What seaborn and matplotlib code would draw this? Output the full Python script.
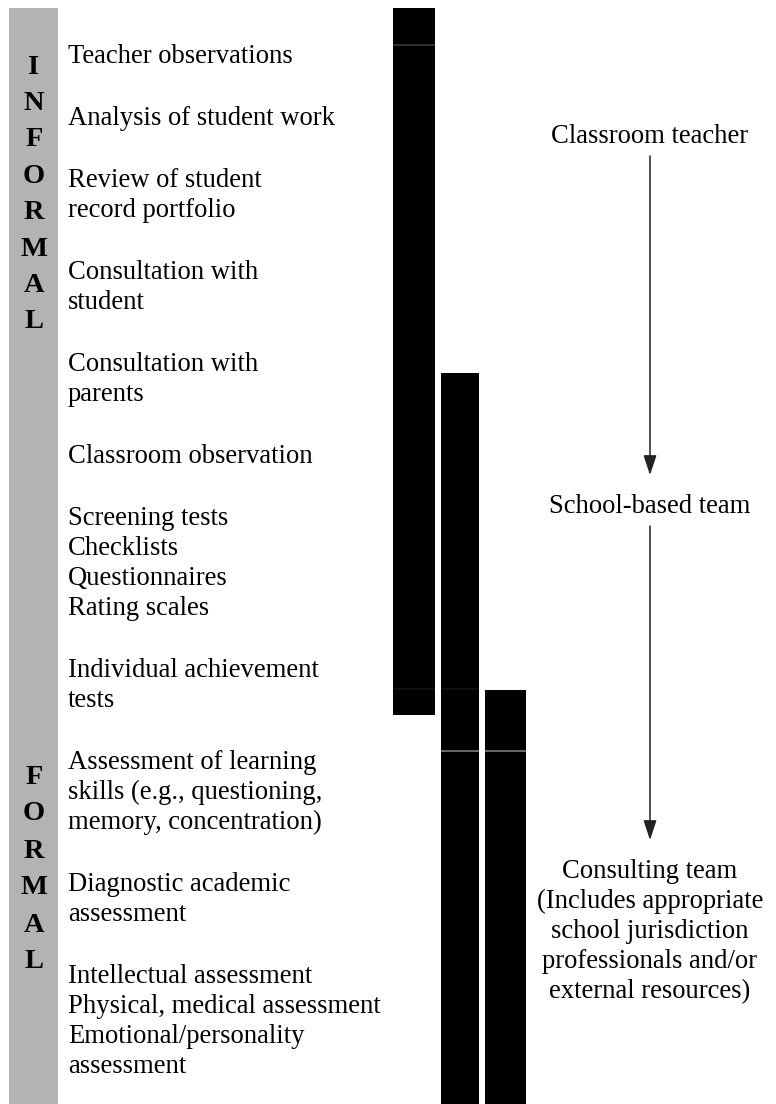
import matplotlib
matplotlib.use("Agg")
import matplotlib.pyplot as plt
import seaborn as sns

# ------------------------------------------------------------
# 기본 설정
# ------------------------------------------------------------
sns.set_theme(style="white")
plt.rcParams["font.family"] = ["Liberation Serif", "DejaVu Serif"]

# ------------------------------------------------------------
# 데이터
# ------------------------------------------------------------
informal_letters = list("INFORMAL")
formal_letters = list("FORMAL")

items = [
    ["Teacher observations"],
    ["Analysis of student work"],
    ["Review of student", "record portfolio"],
    ["Consultation with", "student"],
    ["Consultation with", "parents"],
    ["Classroom observation"],
    ["Screening tests", "Checklists", "Questionnaires", "Rating scales"],
    ["Individual achievement", "tests"],
    ["Assessment of learning", "skills (e.g., questioning,", "memory, concentration)"],
    ["Diagnostic academic", "assessment"],
    ["Intellectual assessment", "Physical, medical assessment",
     "Emotional/personality", "assessment"],
]

levels = [
    ["Classroom teacher"],
    ["School-based team"],
    ["Consulting team", "(Includes appropriate", "school jurisdiction",
     "professionals and/or", "external resources)"],
]
level_rows = [135, 505, 870]   # first line of each level label (px)

# involvement bars: segment boundaries (px, top -> bottom)
teacher_span = [8, 45, 689, 715]
school_span = [373, 689, 751, 1104]
consult_span = [690, 751, 1104]

# ------------------------------------------------------------
# 그리기
# ------------------------------------------------------------
W, H = 776, 1104
fig = plt.figure(figsize=(W / 100, H / 100), dpi=100)
ax = fig.add_axes([0, 0, 1, 1])
ax.set_xlim(0, W)
ax.set_ylim(H, 0)
ax.axis("off")

FS = 19.2
pitch = 30      # line pitch
gap = 32        # gap between items

# grey side band
ax.bar(33.5, H - 8, bottom=8, width=49, color="#b3b3b3", linewidth=0)

# INFORMAL / FORMAL letters
for i, ch in enumerate(informal_letters):
    ax.text(34, 67 + i * 36.4, ch, ha="center", va="center",
            fontsize=20.5, fontweight="bold", color="black")
for i, ch in enumerate(formal_letters):
    ax.text(34, 777 + i * 37, ch, ha="center", va="center",
            fontsize=20.5, fontweight="bold", color="black")

# assessment items
y = 55
for lines in items:
    for j, line in enumerate(lines):
        ax.text(68, y + j * pitch + 8, line, ha="left", va="baseline",
                fontsize=FS, color="black")
    y += len(lines) * pitch + gap

# black bars
bar_x = [414, 460, 505.5]
bar_w = [42, 38, 41]
sep_colors = {45: "#3a3a3a", 689: "#141414", 690: "#141414", 751: "#7a7a7a"}
for span, x, w in zip([teacher_span, school_span, consult_span], bar_x, bar_w):
    tops = span[:-1]
    heights = [b - a for a, b in zip(span[:-1], span[1:])]
    ax.bar([x] * len(tops), heights, bottom=tops, width=w,
           color="black", linewidth=0)
    for b in span[1:-1]:
        ax.hlines(b, x - w / 2, x + w / 2, colors=sep_colors.get(b, "#333333"),
                  linewidth=1.2)

# level labels with arrows
for lines, y0 in zip(levels, level_rows):
    for j, line in enumerate(lines):
        ax.text(650, y0 + j * pitch + 8, line, ha="center", va="baseline",
                fontsize=FS, color="black")
for y0, y1 in zip(level_rows[:-1], level_rows[1:]):
    ax.annotate("", xy=(650, y1 - 30), xytext=(650, y0 + 21),
                arrowprops=dict(arrowstyle="-|>,head_length=0.6,head_width=0.2",
                                mutation_scale=20, color="#222222", lw=1.1,
                                shrinkA=0, shrinkB=0))

fig.savefig("out.png", dpi=100)
